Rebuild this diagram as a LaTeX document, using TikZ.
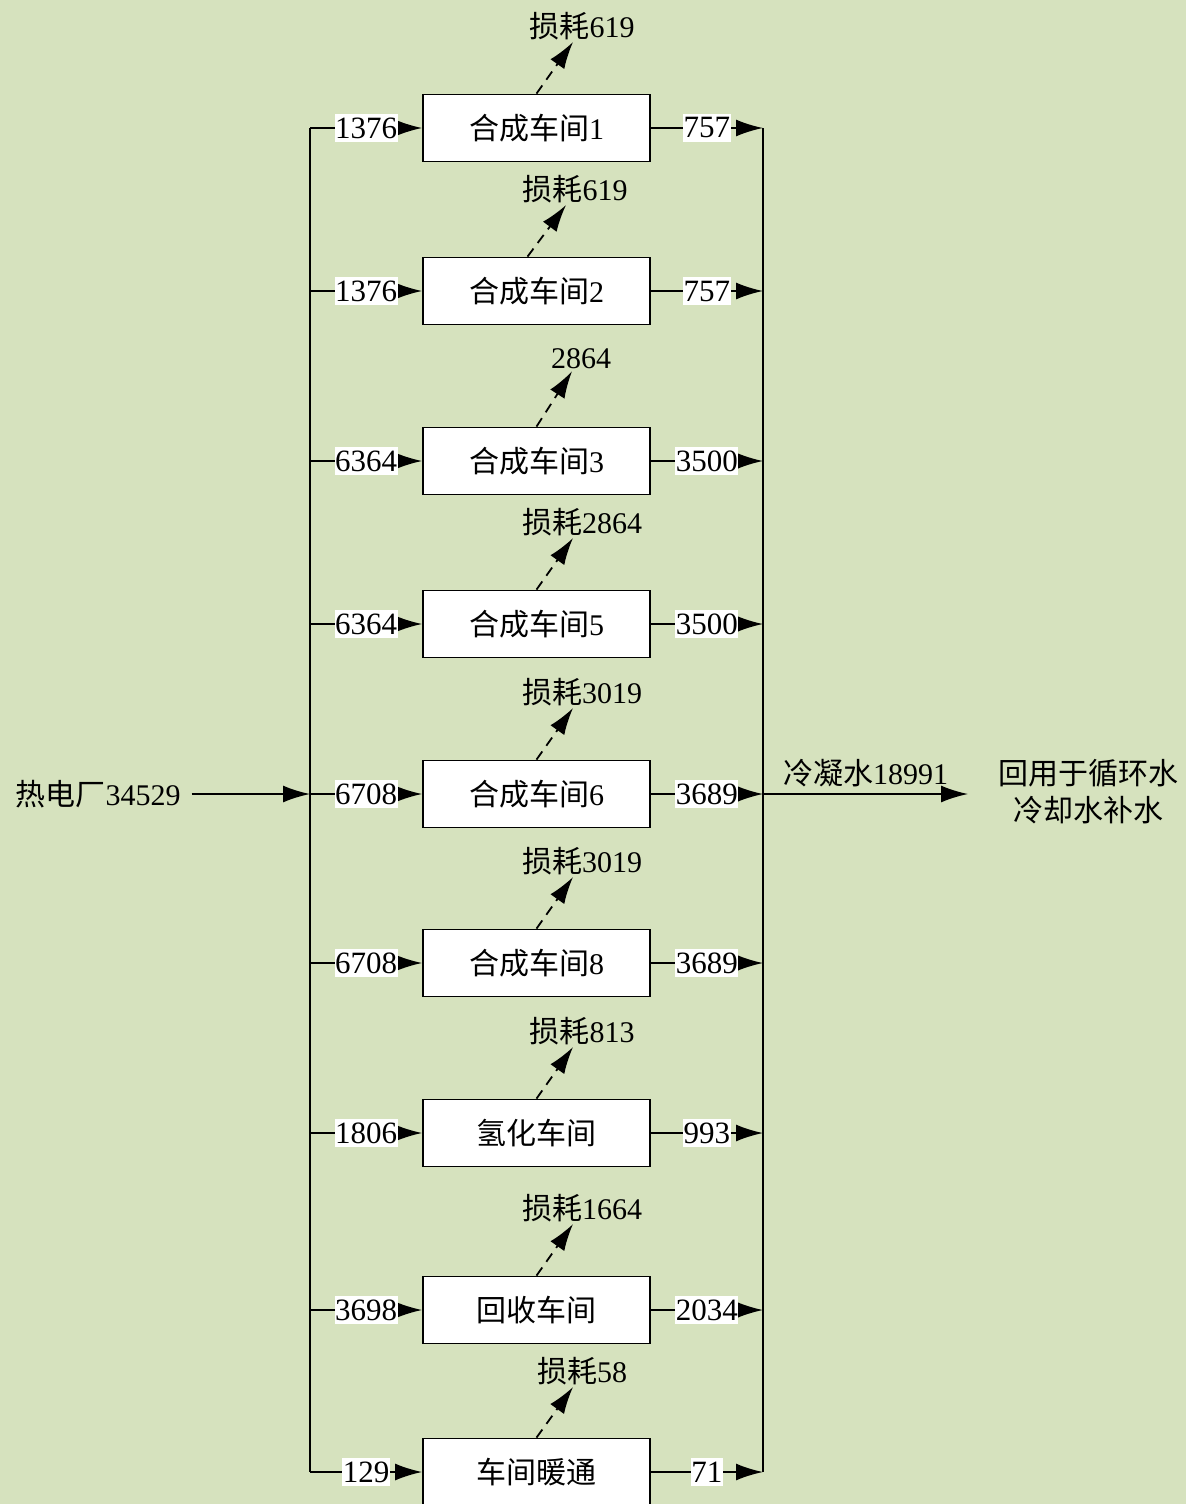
\documentclass[tikz,border=0pt]{standalone}
\usepackage{fontspec}
\setmainfont{Liberation Serif}
\newfontfamily\cjk{Noto Sans CJK SC}
\usetikzlibrary{arrows.meta}
\definecolor{bg}{RGB}{214,226,190}
\tikzset{
  bigtip/.style={-{Latex[length=27pt,width=17pt]}},
  stationbox/.style={draw=black,line width=1.8pt,fill=white,minimum width=227pt,minimum height=67pt,inner sep=0pt,font=\fontsize{30}{35}\selectfont},
  flowlbl/.style={fill=white,inner xsep=0.5pt,inner ysep=4pt,font=\fontsize{31}{36}\selectfont},
  losslbl/.style={inner sep=1pt,font=\fontsize{30}{35}\selectfont},
  plainlbl/.style={inner sep=1pt,font=\fontsize{30}{35}\selectfont},
  flow/.style={line width=1.8pt,bigtip},
  lossflow/.style={line width=1.8pt,dashed,dash pattern=on 10pt off 7pt,bigtip},
  bus/.style={line width=1.8pt}
}
\begin{document}
\begin{tikzpicture}[x=1pt,y=-1pt]
\fill[bg] (0,0) rectangle (1186,1504);
\useasboundingbox (0,0) rectangle (1186,1504);
% boxes
\node[stationbox] (b1) at (536.5,128) {{\cjk 合成车间}1};
\node[stationbox] (b2) at (536.5,291) {{\cjk 合成车间}2};
\node[stationbox] (b3) at (536.5,461) {{\cjk 合成车间}3};
\node[stationbox] (b4) at (536.5,624) {{\cjk 合成车间}5};
\node[stationbox] (b5) at (536.5,794) {{\cjk 合成车间}6};
\node[stationbox] (b6) at (536.5,963) {{\cjk 合成车间}8};
\node[stationbox] (b7) at (536.5,1133) {\cjk 氢化车间};
\node[stationbox] (b8) at (536.5,1310) {\cjk 回收车间};
\node[stationbox] (b9) at (536.5,1472) {\cjk 车间暖通};
% bus coordinates
\foreach \i/\y in {1/128,2/291,3/461,4/624,5/794,6/963,7/1133,8/1310,9/1472}{
  \coordinate (li\i) at (310,\y);
  \coordinate (ro\i) at (763,\y);
}
\draw[bus] (li1) -- (li9);
\draw[bus] (ro1) -- (ro9);
% inputs
\foreach \i/\v in {1/1376,2/1376,3/6364,4/6364,5/6708,6/6708,7/1806,8/3698,9/129}{
  \draw[flow] (li\i) -- node[flowlbl]{\v} (b\i.west);
}
% outputs
\foreach \i/\v in {1/757,2/757,3/3500,4/3500,5/3689,6/3689,7/993,8/2034,9/71}{
  \draw[flow] (b\i.east) -- node[flowlbl]{\v} (ro\i);
}
% losses
\node[losslbl] (l1) at (582,26) {{\cjk 损耗}619};
\node[losslbl] (l2) at (575,189) {{\cjk 损耗}619};
\node[losslbl] (l3) at (581,359) {2864};
\node[losslbl] (l4) at (582,522) {{\cjk 损耗}2864};
\node[losslbl] (l5) at (582,692) {{\cjk 损耗}3019};
\node[losslbl] (l6) at (582,861) {{\cjk 损耗}3019};
\node[losslbl] (l7) at (582,1031) {{\cjk 损耗}813};
\node[losslbl] (l8) at (582,1208) {{\cjk 损耗}1664};
\node[losslbl] (l9) at (582,1371) {{\cjk 损耗}58};
\foreach \i in {1,3,4,5,6,7,8,9}{
  \draw[lossflow] (b\i.north) -- ([xshift=-9pt,yshift=-1pt]l\i.south);
}
\draw[lossflow] ([xshift=-9pt]b2.north) -- ([xshift=-9pt,yshift=-1pt]l2.south);
% main input
\node[plainlbl] (src) at (98,794) {{\cjk 热电厂}34529};
\draw[flow] ([xshift=10pt]src.east) -- (li5);
% main output
\coordinate (out) at (968,794);
\draw[flow] (ro5) -- node[plainlbl,above=5pt]{{\cjk 冷凝水}18991} (out);
\node[plainlbl,align=center,font=\cjk\fontsize{30}{37}\selectfont] (dst) at (1088,792) {回用于循环水\\冷却水补水};
\end{tikzpicture}
\end{document}
